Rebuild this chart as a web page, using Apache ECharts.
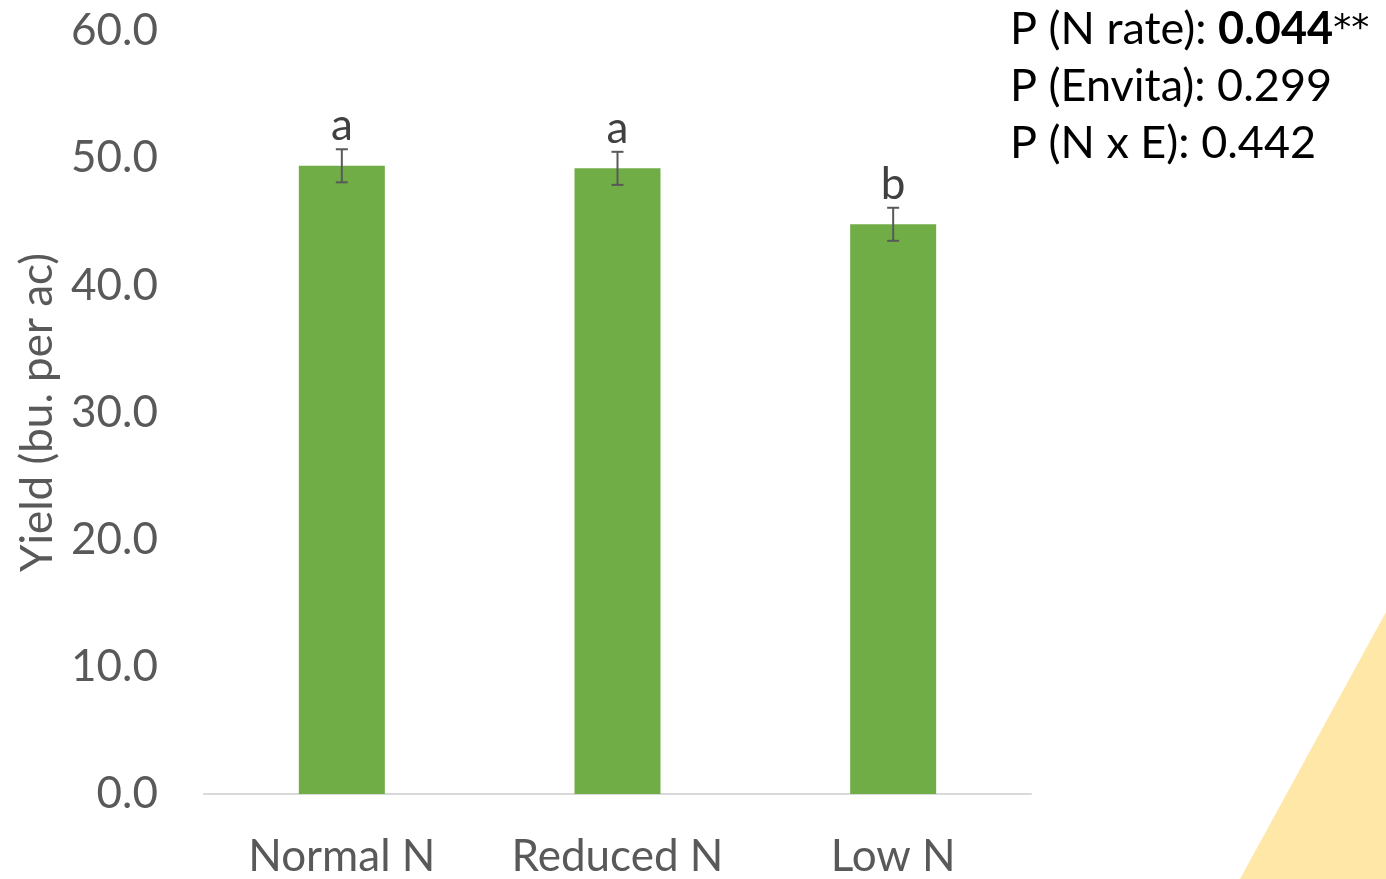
<!DOCTYPE html>
<html>
<head>
<meta charset="utf-8">
<script src="https://cdn.jsdelivr.net/npm/echarts@6/dist/echarts.min.js"></script>
<style>
  html, body { margin: 0; padding: 0; background: #fff; }
  #chart { width: 1386px; height: 879px; }
</style>
</head>
<body>
<div id="chart"></div>
<script>
// Yield by nitrogen rate
const categories = ['Normal N', 'Reduced N', 'Low N'];
const yieldMeans = [49.4, 49.2, 44.8];
const yieldErrors = [1.3, 1.3, 1.3];
const groupLetters = ['a', 'a', 'b'];
const yTicks = [0, 10, 20, 30, 40, 50, 60];
const pValueLines = [
  { label: 'P (N rate): ', value: '0.044', suffix: '**', bold: true },
  { label: 'P (Envita): ', value: '0.299', suffix: '', bold: false },
  { label: 'P (N x E): ', value: '0.442', suffix: '', bold: false }
];

const FONT = 'Lato, "Open Sans", sans-serif';
const GREY = '#595959';

const chart = echarts.init(document.getElementById('chart'));

const errorData = categories.map((c, i) => [i, yieldMeans[i] - yieldErrors[i], yieldMeans[i] + yieldErrors[i], groupLetters[i]]);

const pText = pValueLines.map((l, i) => ({
  type: 'text',
  left: 1010,
  top: 7 + i * 57,
  style: {
    rich: {
      n: { fontFamily: FONT, fontSize: 45, lineHeight: 54, fill: '#000' },
      b: { fontFamily: FONT, fontSize: 45, lineHeight: 54, fontWeight: 'bold', fill: '#000' },
      s: { fontFamily: '"DejaVu Sans", sans-serif', fontSize: 36, lineHeight: 54, fill: '#000' }
    },
    text: '{n|' + l.label + '}' + (l.bold ? '{b|' + l.value + '}' : '{n|' + l.value + '}') + (l.suffix ? '{s|' + l.suffix + '}' : '')
  }
}));

chart.setOption({
  animation: false,
  backgroundColor: '#fff',
  grid: { left: 204, right: 355, top: 31, bottom: 83, containLabel: false },
  graphic: [
    {
      type: 'polygon',
      silent: true,
      z: -10,
      shape: { points: [[1386, 612], [1386, 879], [1240, 879]] },
      style: { fill: '#FFE7A8' }
    }
  ].concat(pText),
  xAxis: {
    type: 'category',
    data: categories,
    axisTick: { show: false },
    axisLine: { lineStyle: { color: '#D9D9D9', width: 2 } },
    axisLabel: { color: GREY, fontSize: 44, fontFamily: FONT, margin: 41 }
  },
  yAxis: {
    type: 'value',
    min: yTicks[0],
    max: yTicks[yTicks.length - 1],
    interval: 10,
    name: 'Yield (bu. per ac)',
    nameLocation: 'middle',
    nameGap: 142,
    nameRotate: 90,
    nameTextStyle: { color: GREY, fontSize: 44, fontFamily: FONT },
    splitLine: { show: false },
    axisLine: { show: false },
    axisTick: { show: false },
    axisLabel: {
      color: GREY, fontSize: 44, fontFamily: FONT, margin: 46,
      formatter: v => v.toFixed(1)
    }
  },
  series: [
    {
      type: 'bar',
      data: yieldMeans,
      barWidth: 86,
      itemStyle: { color: '#70AD47' }
    },
    {
      type: 'custom',
      data: errorData,
      z: 5,
      renderItem: function (params, api) {
        const x = api.value(0);
        const lo = api.coord([x, api.value(1)]);
        const hi = api.coord([x, api.value(2)]);
        const cap = 6;
        const s = { stroke: GREY, lineWidth: 2 };
        return {
          type: 'group',
          children: [
            { type: 'line', shape: { x1: hi[0], y1: hi[1], x2: lo[0], y2: lo[1] }, style: s },
            { type: 'line', shape: { x1: hi[0] - cap, y1: hi[1], x2: hi[0] + cap, y2: hi[1] }, style: s },
            { type: 'line', shape: { x1: lo[0] - cap, y1: lo[1], x2: lo[0] + cap, y2: lo[1] }, style: s },
            {
              type: 'text',
              style: {
                text: groupLetters[params.dataIndex],
                x: hi[0], y: hi[1] - 1,
                align: 'center', verticalAlign: 'bottom',
                fontSize: 44, fontFamily: FONT, fill: '#404040'
              }
            }
          ]
        };
      }
    }
  ]
});
</script>
</body>
</html>
